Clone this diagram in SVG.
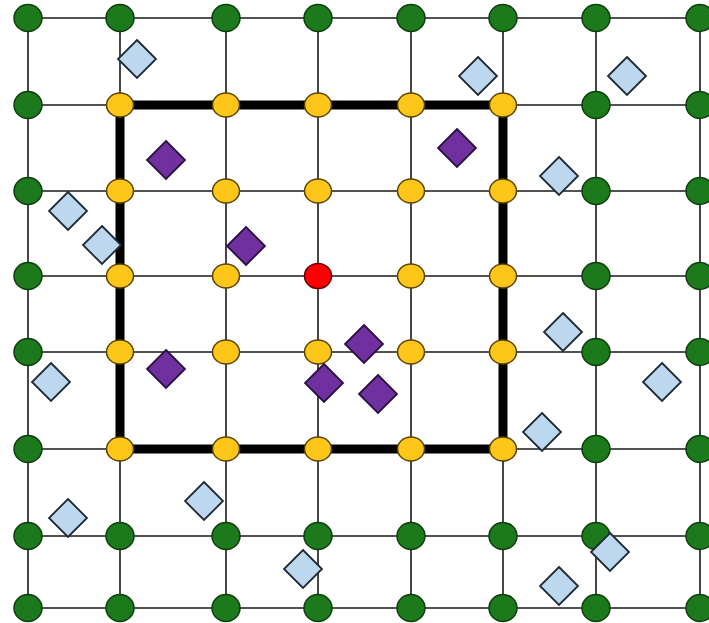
<svg xmlns="http://www.w3.org/2000/svg" width="709" height="623" viewBox="0 0 709 623">
<style>
.grid{stroke:#1a1a1a;stroke-width:1.6;fill:none}
.thick{stroke:#000;stroke-width:9;fill:none;stroke-linejoin:miter}
.g{fill:#1c7a1c;stroke:#0b3f0b;stroke-width:1.5}
.y{fill:#ffc61a;stroke:#5a4200;stroke-width:1.5}
.r{fill:#ff0000;stroke:#6a0000;stroke-width:1.5}
.lb{fill:#bdd7ee;stroke:#1e2a36;stroke-width:1.8}
.pu{fill:#7030a0;stroke:#2a1040;stroke-width:1.8}
</style>
<defs>
<ellipse id="gc" class="g" rx="14" ry="13.5"/>
<ellipse id="yc" class="y" rx="13.5" ry="12"/>
<path id="dia" d="M0,-19 L19,0 L0,19 L-19,0 Z"/>
</defs>
<rect width="709" height="623" fill="#fff"/>
<g id="connectors">
<path class="grid" d="M28,18H709M28,105H709M28,191H709M28,276H709M28,352H709M28,449H709M28,536H709M28,608H709"/>
<path class="grid" d="M28,18V608M120,18V608M226,18V608M318,18V608M411,18V608M503,18V608M596,18V608M700,18V608"/>
<rect class="thick" x="120" y="105" width="383" height="344"/>
</g>
<g id="green-nodes">
<use href="#gc" x="28" y="18"/><use href="#gc" x="120" y="18"/><use href="#gc" x="226" y="18"/><use href="#gc" x="318" y="18"/><use href="#gc" x="411" y="18"/><use href="#gc" x="503" y="18"/><use href="#gc" x="596" y="18"/><use href="#gc" x="700" y="18"/>
<use href="#gc" x="28" y="105"/><use href="#gc" x="596" y="105"/><use href="#gc" x="700" y="105"/>
<use href="#gc" x="28" y="191"/><use href="#gc" x="596" y="191"/><use href="#gc" x="700" y="191"/>
<use href="#gc" x="28" y="276"/><use href="#gc" x="596" y="276"/><use href="#gc" x="700" y="276"/>
<use href="#gc" x="28" y="352"/><use href="#gc" x="596" y="352"/><use href="#gc" x="700" y="352"/>
<use href="#gc" x="28" y="449"/><use href="#gc" x="596" y="449"/><use href="#gc" x="700" y="449"/>
<use href="#gc" x="28" y="536"/><use href="#gc" x="120" y="536"/><use href="#gc" x="226" y="536"/><use href="#gc" x="318" y="536"/><use href="#gc" x="411" y="536"/><use href="#gc" x="503" y="536"/><use href="#gc" x="596" y="536"/><use href="#gc" x="700" y="536"/>
<use href="#gc" x="28" y="608"/><use href="#gc" x="120" y="608"/><use href="#gc" x="226" y="608"/><use href="#gc" x="318" y="608"/><use href="#gc" x="411" y="608"/><use href="#gc" x="503" y="608"/><use href="#gc" x="596" y="608"/><use href="#gc" x="700" y="608"/>
</g>
<g id="yellow-nodes">
<use href="#yc" x="120" y="105"/><use href="#yc" x="226" y="105"/><use href="#yc" x="318" y="105"/><use href="#yc" x="411" y="105"/><use href="#yc" x="503" y="105"/>
<use href="#yc" x="120" y="191"/><use href="#yc" x="226" y="191"/><use href="#yc" x="318" y="191"/><use href="#yc" x="411" y="191"/><use href="#yc" x="503" y="191"/>
<use href="#yc" x="120" y="276"/><use href="#yc" x="226" y="276"/><use href="#yc" x="411" y="276"/><use href="#yc" x="503" y="276"/>
<use href="#yc" x="120" y="352"/><use href="#yc" x="226" y="352"/><use href="#yc" x="318" y="352"/><use href="#yc" x="411" y="352"/><use href="#yc" x="503" y="352"/>
<use href="#yc" x="120" y="449"/><use href="#yc" x="226" y="449"/><use href="#yc" x="318" y="449"/><use href="#yc" x="411" y="449"/><use href="#yc" x="503" y="449"/>
</g>
<g id="red-node">
<ellipse class="r" cx="318" cy="276" rx="13.5" ry="12.5"/>
</g>
<g id="blue-diamonds">
<use href="#dia" class="lb" x="137" y="59"/>
<use href="#dia" class="lb" x="68" y="211"/>
<use href="#dia" class="lb" x="102" y="245"/>
<use href="#dia" class="lb" x="478" y="76"/>
<use href="#dia" class="lb" x="627" y="76"/>
<use href="#dia" class="lb" x="559" y="176"/>
<use href="#dia" class="lb" x="51" y="382"/>
<use href="#dia" class="lb" x="68" y="518"/>
<use href="#dia" class="lb" x="204" y="501"/>
<use href="#dia" class="lb" x="303" y="569"/>
<use href="#dia" class="lb" x="563" y="332"/>
<use href="#dia" class="lb" x="662" y="382"/>
<use href="#dia" class="lb" x="542" y="432"/>
<use href="#dia" class="lb" x="610" y="552"/>
<use href="#dia" class="lb" x="559" y="586"/>
</g>
<g id="purple-diamonds">
<use href="#dia" class="pu" x="166" y="160"/>
<use href="#dia" class="pu" x="246" y="246"/>
<use href="#dia" class="pu" x="457" y="148"/>
<use href="#dia" class="pu" x="166" y="369"/>
<use href="#dia" class="pu" x="324" y="383"/>
<use href="#dia" class="pu" x="364" y="344"/>
<use href="#dia" class="pu" x="378" y="394"/>
</g>
</svg>
